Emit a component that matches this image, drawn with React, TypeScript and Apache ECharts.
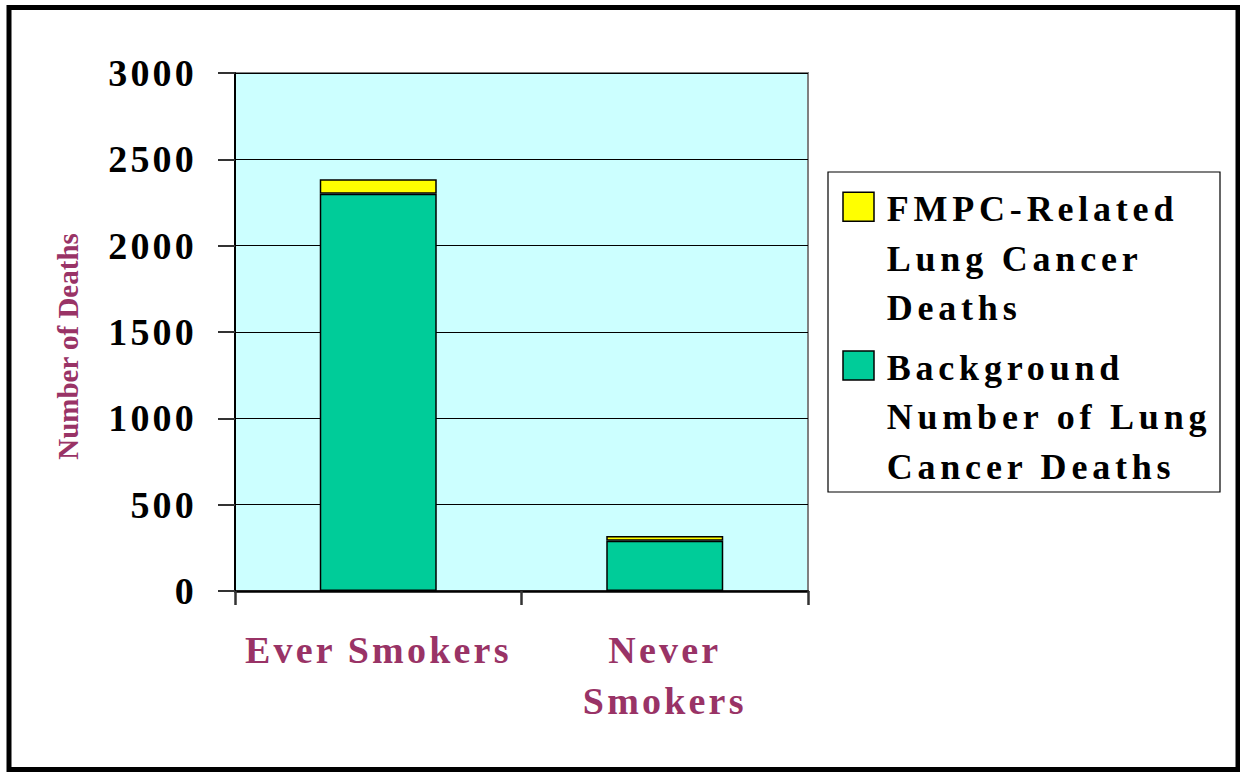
import React, { useEffect, useRef } from "react";
import * as echarts from "echarts";

const categories = ["Ever Smokers", "Never\nSmokers"];
const backgroundDeaths = [2300, 291];
const fmpcDeaths = [84, 27];
const seriesNames = ["FMPC-Related\nLung Cancer\nDeaths", "Background\nNumber of Lung\nCancer Deaths"];
const seriesColors = ["#FFFF00", "#00CC99"];
const yAxisName = "Number of Deaths";
const yMin = 0;
const yMax = 3000;
const yInterval = 500;

const FONT = "'Liberation Serif', 'Times New Roman', serif";
const LABEL_COLOR = "#993366";

export default function App() {
  const ref = useRef<HTMLDivElement>(null);

  useEffect(() => {
    if (!ref.current) return;
    const chart = echarts.init(ref.current, undefined, { renderer: "svg" });

    const legendChildren: any[] = [
      {
        type: "rect",
        shape: { x: 0, y: 0, width: 392, height: 320 },
        style: { fill: "#FFFFFF", stroke: "#000000", lineWidth: 1.2 },
      },
    ];
    seriesNames.forEach((name, i) => {
      legendChildren.push({
        type: "rect",
        shape: { x: 15, y: 20.3 + i * 158.7, width: 31, height: 29 },
        style: { fill: seriesColors[i], stroke: "#000000", lineWidth: 1.5 },
      });
      legendChildren.push({
        type: "text",
        x: 58.7,
        y: 12.3 + i * 158.7,
        style: {
          text: name,
          fill: "#000000",
          fontSize: 36,
          fontWeight: "bold",
          fontFamily: FONT,
          lineHeight: 49.5,
          align: "left",
          verticalAlign: "top",
        },
      });
    });

    chart.setOption({
      animation: false,
      backgroundColor: "#FFFFFF",
      grid: {
        left: 235,
        top: 73,
        right: 432,
        bottom: 181,
        show: true,
        backgroundColor: "#CCFFFF",
        borderColor: "#808080",
        borderWidth: 2,
      },
      xAxis: {
        type: "category",
        data: categories,
        axisLine: { show: true, lineStyle: { color: "#000000", width: 2.5 } },
        axisTick: { show: true, length: 14, lineStyle: { color: "#333333", width: 2.5 } },
        axisLabel: {
          color: LABEL_COLOR,
          fontSize: 38,
          fontWeight: "bold",
          fontFamily: FONT,
          lineHeight: 51,
          margin: 33.5,
          interval: 0,
        },
        splitLine: { show: false },
      },
      yAxis: {
        type: "value",
        min: yMin,
        max: yMax,
        interval: yInterval,
        axisLine: { show: true, lineStyle: { color: "#000000", width: 2 } },
        axisTick: { show: true, length: 17, lineStyle: { color: "#333333", width: 2 } },
        axisLabel: {
          color: "#000000",
          fontSize: 38,
          fontWeight: "bold",
          fontFamily: FONT,
          margin: 38,
          formatter: (v: number) => String(v),
        },
        splitLine: { show: true, lineStyle: { color: "#000000", width: 1 } },
      },
      series: [
        {
          name: seriesNames[1],
          type: "bar",
          stack: "deaths",
          data: backgroundDeaths,
          barWidth: 117,
          itemStyle: { color: seriesColors[1], borderColor: "#000000", borderWidth: 1.5 },
        },
        {
          name: seriesNames[0],
          type: "bar",
          stack: "deaths",
          data: fmpcDeaths,
          barWidth: 117,
          itemStyle: { color: seriesColors[0], borderColor: "#000000", borderWidth: 1.5 },
        },
      ],
      graphic: [
        {
          type: "rect",
          shape: { x: 9, y: 7.5, width: 1229, height: 762 },
          style: { fill: "transparent", stroke: "#000000", lineWidth: 5 },
          silent: true,
        },
        {
          type: "text",
          x: 67.5,
          y: 346.5,
          rotation: Math.PI / 2,
          style: {
            text: yAxisName,
            fill: LABEL_COLOR,
            fontSize: 29,
            fontWeight: "bold",
            fontFamily: FONT,
            align: "center",
            verticalAlign: "middle",
          },
        },
        {
          type: "group",
          x: 828,
          y: 172,
          children: legendChildren,
        },
      ],
    });

    const legendLines = new Set<string>();
    seriesNames.forEach((n) => n.split("\n").forEach((l) => legendLines.add(l)));
    const applySpacing = () => {
      const root = ref.current;
      if (!root) return;
      root.querySelectorAll("text").forEach((t) => {
        const c = (t.textContent || "").trim();
        if (c === yAxisName) t.setAttribute("letter-spacing", "0");
        else if (legendLines.has(c)) t.setAttribute("letter-spacing", "4.8");
        else t.setAttribute("letter-spacing", "3.2");
      });
    };
    applySpacing();
    chart.on("finished", applySpacing);
    const timer = setTimeout(applySpacing, 50);

    return () => {
      clearTimeout(timer);
      chart.dispose();
    };
  }, []);

  return (
    <div
      ref={ref}
      style={{ position: "absolute", left: 0, top: 0, width: 1240, height: 772 }}
    />
  );
}
